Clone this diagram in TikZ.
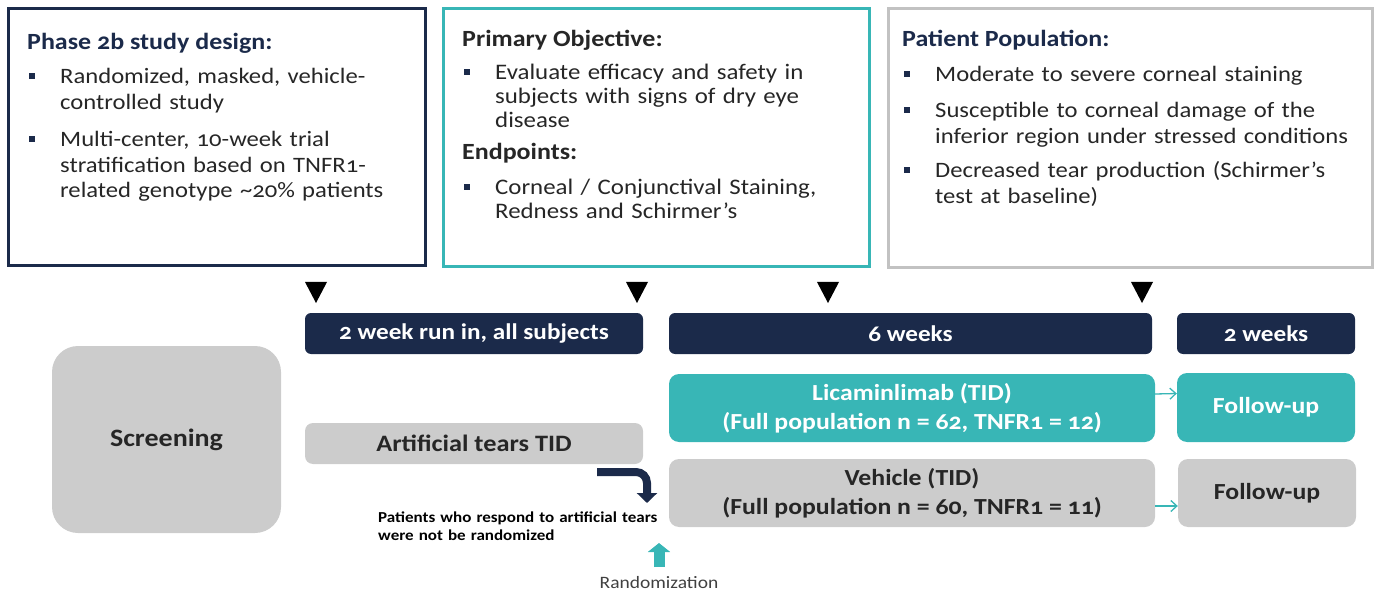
\documentclass[tikz,border=0pt]{standalone}
\usepackage{fontspec}
\setmainfont{Carlito}[Numbers=OldStyle, FakeStretch=1.12]
\usetikzlibrary{arrows.meta}
\definecolor{navy}{HTML}{1B2A4A}
\definecolor{tealc}{HTML}{38B6B6}
\definecolor{boxgray}{HTML}{CCCCCC}
\definecolor{bordgray}{HTML}{C2C2C2}
\definecolor{txt}{HTML}{262626}
\definecolor{randtxt}{HTML}{404040}
\begin{document}
\begin{tikzpicture}[x=1pt,y=-1pt,
  infobox/.style={line width=3pt, inner sep=0pt, anchor=north west},
  head/.style={anchor=base west, inner sep=0pt, font=\fontsize{23.2}{27}\selectfont\bfseries},
  item/.style={anchor=base west, inner sep=0pt, text width=#1, align=left, text=txt},
  bar/.style={fill=navy, rounded corners=6pt, text=white, inner sep=0pt,
    font=\fontsize{22.5}{26}\selectfont\bfseries},
  tbox/.style={rounded corners=10pt, inner sep=0pt, align=center,
    font=\fontsize{23}{29}\selectfont\bfseries},
  licbox/.style={tbox, fill=tealc, text=white},
  graybox/.style={tbox, fill=boxgray, text=txt},
  bul/.style={fill=navy},
  tri/.style={fill=black},
  smallarrow/.style={draw=tealc, line width=1.3pt, -{Straight Barb[length=6pt,width=11pt]}},
  rejarrow/.style={draw=navy, line width=8pt, rounded corners=11pt, -{Triangle[length=10pt,width=20pt]}},
  randarrow/.style={draw=tealc, line width=11pt, -{Triangle[length=9pt,width=22pt]}}
]
\useasboundingbox (0,0) rectangle (1374,596);

% ---------- information boxes ----------
\node[infobox, draw=navy, minimum width=417pt, minimum height=257pt] (info1) at (7,7) {};
\node[infobox, draw=tealc, minimum width=426pt, minimum height=258pt] (info2) at (442,7) {};
\node[infobox, draw=bordgray, minimum width=484pt, minimum height=259pt] (info3) at (887,7) {};

% box 1
\node[head, text=navy] (h1) at (27,50) {Phase 2b study design:};
\begin{scope}[every node/.style={font=\fontsize{22}{25.5}\selectfont}]
\node[item=380pt] (a1) at (60,84) {Randomized, masked, vehicle-\\controlled study};
\node[item=380pt] (a2) at (60,147) {Multi-center, 10-week trial\\stratification based on TNFR1-\\related genotype \textasciitilde20\% patients};
\end{scope}
\fill[bul] ([xshift=-31pt,yshift=5pt]a1.base west) rectangle ++(6pt,6pt);
\fill[bul] ([xshift=-31pt,yshift=5pt]a2.base west) rectangle ++(6pt,6pt);

% box 2
\node[head, text=txt] (h2) at (462,47) {Primary Objective:};
\node[head, text=txt] (h3) at (462,160) {Endpoints:};
\begin{scope}[every node/.style={font=\fontsize{22.2}{24}\selectfont}]
\node[item=380pt] (b1) at (495,80) {Evaluate efficacy and safety in\\subjects with signs of dry eye\\disease};
\node[item=380pt] (b2) at (495,195) {Corneal / Conjunctival Staining,\\Redness and Schirmer's};
\end{scope}
\fill[bul] ([xshift=-31pt,yshift=5pt]b1.base west) rectangle ++(6pt,6pt);
\fill[bul] ([xshift=-31pt,yshift=5pt]b2.base west) rectangle ++(6pt,6pt);

% box 3
\node[head, text=navy] (h4) at (902,47) {Patient Population:};
\begin{scope}[every node/.style={font=\fontsize{22}{26}\selectfont}]
\node[item=450pt] (c1) at (935,82) {Moderate to severe corneal staining};
\node[item=450pt] (c2) at (935,118) {Susceptible to corneal damage of the\\inferior region under stressed conditions};
\node[item=450pt] (c3) at (935,178) {Decreased tear production (Schirmer's\\test at baseline)};
\end{scope}
\fill[bul] ([xshift=-31pt,yshift=5pt]c1.base west) rectangle ++(6pt,6pt);
\fill[bul] ([xshift=-31pt,yshift=5pt]c2.base west) rectangle ++(6pt,6pt);
\fill[bul] ([xshift=-31pt,yshift=5pt]c3.base west) rectangle ++(6pt,6pt);

% ---------- timeline markers ----------
\foreach \tx in {316,637,828,1142}
  \fill[tri] (\tx-11,282) -- (\tx+11,282) -- (\tx,303) -- cycle;

% ---------- period bars ----------
\node[bar, minimum width=338pt, minimum height=41pt] (p1) at (474,333.5) {2 week run in, all subjects};
\node[bar, minimum width=483pt, minimum height=41pt] (p2) at (910.5,333.5) {6 weeks};
\node[bar, minimum width=178pt, minimum height=41pt] (p3) at (1266,333.5) {2 weeks};

% ---------- arms ----------
\node[graybox, rounded corners=26pt, minimum width=229pt, minimum height=187pt,
  font=\fontsize{25}{29}\selectfont\bfseries] (scr) at (166.5,439.5) {Screening};
\node[graybox, rounded corners=8pt, minimum width=338pt, minimum height=41pt,
  font=\fontsize{23.5}{28}\selectfont\bfseries] (tears) at (474,443.5) {Artificial tears TID};
\node[licbox, minimum width=486pt, minimum height=68pt] (lic) at (912,408) {Licaminlimab (TID)\\(Full population n = 62, TNFR1 = 12)};
\node[licbox, minimum width=178pt, minimum height=69pt] (fu1) at (1266,407.5) {Follow-up};
\node[graybox, minimum width=486pt, minimum height=68pt] (veh) at (912,493) {Vehicle (TID)\\(Full population n = 60, TNFR1 = 11)};
\node[graybox, minimum width=178pt, minimum height=68pt] (fu2) at (1267,493) {Follow-up};

\draw[smallarrow] ([yshift=14pt]lic.east) -- ([yshift=14pt]fu1.west);
\draw[smallarrow] ([yshift=-13pt]veh.east) -- ([yshift=-13pt]fu2.west);

% ---------- non-responders ----------
\node[anchor=base west, inner sep=0pt, text width=320pt, align=left, text=black,
  font=\fontsize{15.2}{18}\selectfont\bfseries] (note) at (378,522)
  {Patients who respond to artificial tears\\were not be randomized};
\coordinate (rejS) at (597,472);
\coordinate (rejC) at (647,472);
\coordinate (rejE) at (647,503);
\draw[rejarrow] (rejS) -- (rejC) -- (rejE);

% ---------- randomization ----------
\node[anchor=base, inner sep=0pt, text=randtxt, font=\fontsize{17.4}{20}\selectfont] (rand) at (659,588) {Randomization};
\coordinate (randS) at (659,567);
\coordinate (randE) at (659,543);
\draw[randarrow] (randS) -- (randE);
\end{tikzpicture}
\end{document}
